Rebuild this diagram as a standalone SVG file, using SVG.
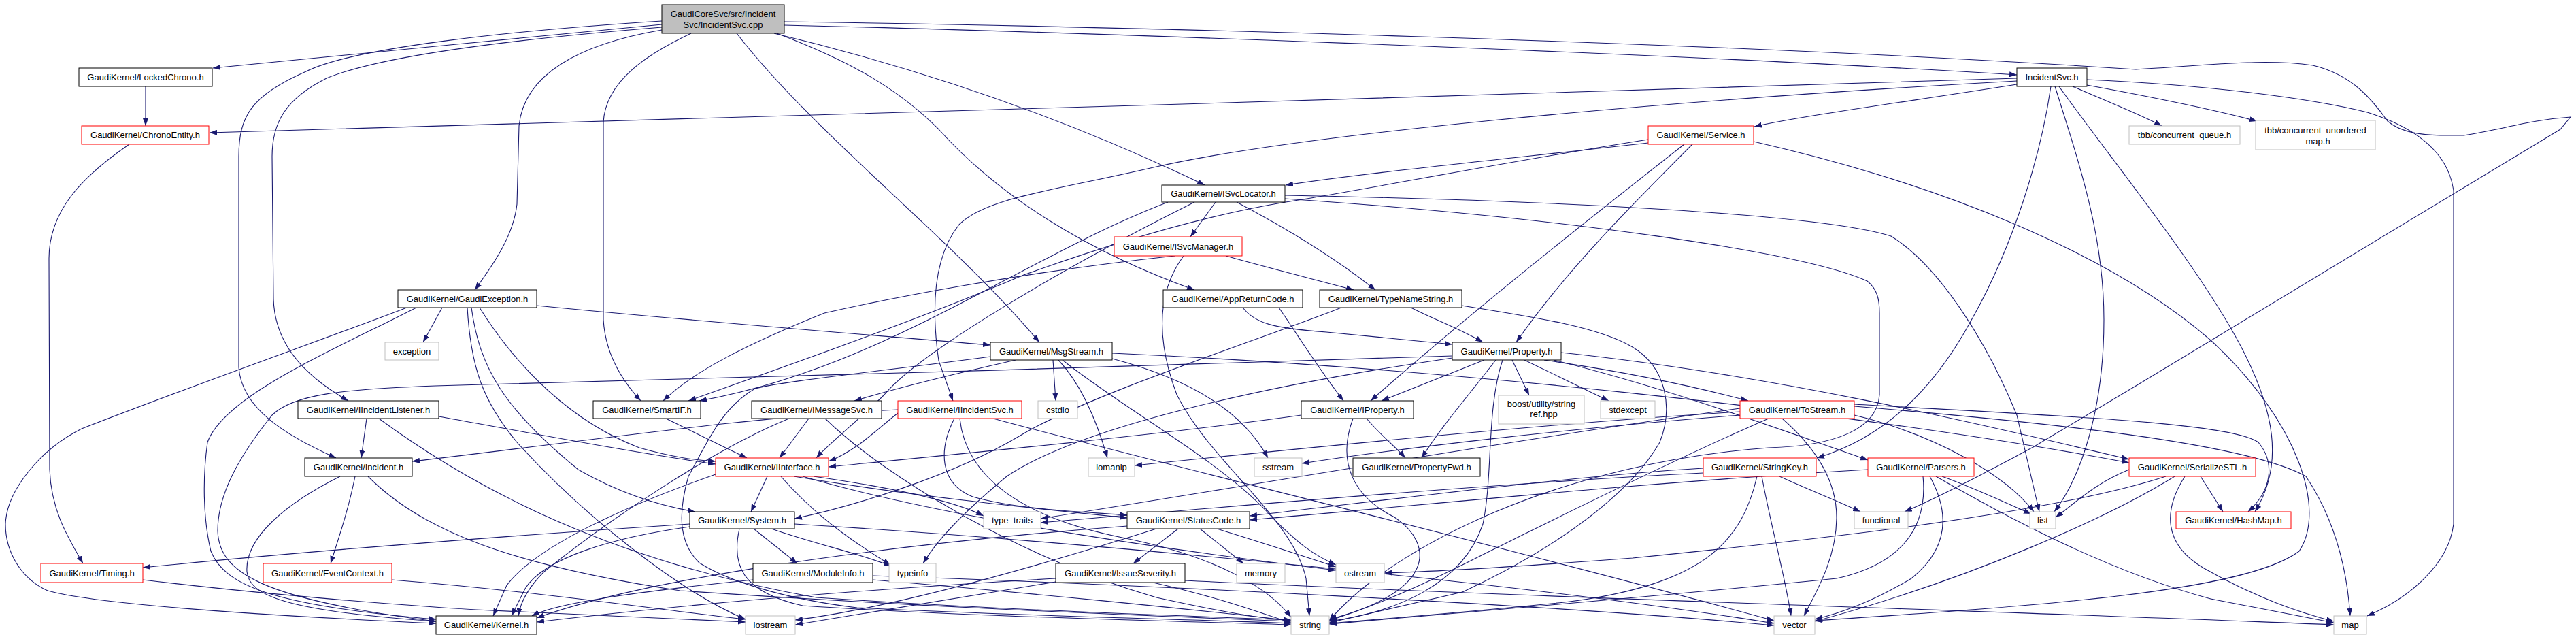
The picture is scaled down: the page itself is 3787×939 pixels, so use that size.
<svg xmlns="http://www.w3.org/2000/svg" width="3787" height="939" viewBox="0 0 3787 939">
<style>
rect{fill:#fff;stroke:#000;stroke-width:1}
.r{stroke:#ff0000}
.g{stroke:#bfbfbf}
.root{fill:#bfbfbf;stroke:#000}
text{font-family:"Liberation Sans",Arial,Helvetica,sans-serif;font-size:13px;text-anchor:middle;fill:#000}
#edges path{fill:none;stroke:#191970;stroke-width:1.1;marker-end:url(#a)}
</style>
<defs>
<marker id="a" viewBox="0 0 11 8" refX="11" refY="4" markerWidth="11" markerHeight="8" markerUnits="userSpaceOnUse" orient="auto"><path d="M0,0L11,4L0,8z" fill="#191970"/></marker>
</defs>
<rect x="0" y="0" width="3787" height="939" style="fill:#fff;stroke:none"/>
<g id="edges">
<path d="M973,36 C760,56 520,80 313,100"/>
<path d="M1153,37 C1500,45 2400,75 2965,110"/>
<path d="M973,44 C850,65 770,110 763,185 L760,300 C755,345 728,385 698,426"/>
<path d="M1016,49 C950,80 890,120 887,180 L887,470 C890,520 915,560 942,589"/>
<path d="M1138,49 C1350,100 1560,170 1771,272"/>
<path d="M1142,49 C1250,90 1320,130 1380,190 C1470,290 1600,370 1756,426"/>
<path d="M1083,49 C1200,200 1400,350 1528,503"/>
<path d="M973,40 C750,58 560,82 480,115 C420,145 400,180 400,230 L402,440 C404,500 440,548 512,589"/>
<path d="M973,31 C750,45 520,70 450,105 C370,140 351,170 351,230 L351,540 C355,600 420,640 494,673"/>
<path d="M1153,32 C1600,38 2500,60 3140,102 C3260,95 3330,86 3400,96 C3460,110 3490,150 3510,178 C3530,195 3560,199 3600,199 L3622,199 C3680,190 3720,176 3779,172 L3764,190 L3140,567 L2989,657 C2900,705 2840,735 2800,752"/>
<path d="M214,127 L214,185"/>
<path d="M190,212 C120,260 72,310 72,380 L73,690 C75,750 100,790 122,828"/>
<path d="M210,852 C400,875 600,890 700,896 C900,905 1000,910 1096,914"/>
<path d="M576,852 C800,870 1000,900 1096,910"/>
<path d="M522,700 C512,750 498,790 486,828"/>
<path d="M500,700 C420,740 360,790 363,840 C366,875 420,898 641,913"/>
<path d="M541,700 C620,780 750,830 1000,868 C1400,895 1700,905 1898,913"/>
<path d="M539,615 L531,673"/>
<path d="M645,612 C800,640 950,668 1052,682"/>
<path d="M557,615 C700,720 900,825 1200,878 C1500,898 1750,905 1898,911"/>
<path d="M979,615 C1020,635 1060,655 1098,673"/>
<path d="M650,452 L622,503"/>
<path d="M598,452 C500,490 300,560 120,630 C60,660 10,720 8,770 C8,810 30,850 70,868 C150,890 400,905 641,916"/>
<path d="M612,452 C500,510 330,580 305,650 C298,700 298,760 310,810 C330,860 400,890 641,910"/>
<path d="M789,449 C1000,470 1250,490 1456,507"/>
<path d="M693,452 C705,540 740,600 850,690 C920,730 980,745 1022,752"/>
<path d="M705,452 C760,540 840,620 940,658 C990,672 1020,676 1052,678"/>
<path d="M687,452 C692,540 710,590 760,650 C860,760 1000,870 1096,910"/>
<path d="M1189,615 L1146,673"/>
<path d="M1160,615 C1050,660 900,760 800,840 C775,865 765,885 762,905"/>
<path d="M1213,615 C1300,700 1500,820 1700,878 C1800,900 1850,908 1898,912"/>
<path d="M1320,607 C1290,630 1260,662 1218,678"/>
<path d="M1320,602 C1100,612 850,650 606,678"/>
<path d="M1403,615 C1380,660 1380,710 1430,730 C1500,750 1600,752 1657,757"/>
<path d="M1411,615 C1420,700 1500,760 1650,790 C1800,820 1870,870 1898,907"/>
<path d="M1460,615 C1700,680 2200,800 2608,912"/>
<path d="M1128,700 L1104,752"/>
<path d="M1052,697 C930,740 790,800 745,860 L725,905"/>
<path d="M1148,700 C1200,760 1260,800 1309,830"/>
<path d="M1167,700 C1350,730 1500,745 1657,761"/>
<path d="M1196,700 C1300,715 1400,735 1446,758"/>
<path d="M1180,700 C1400,765 1750,812 1964,838"/>
<path d="M1014,770 C700,790 400,815 210,834"/>
<path d="M1014,774 C900,790 800,820 772,865 L752,905"/>
<path d="M1108,777 L1172,828"/>
<path d="M1134,777 C1200,800 1270,815 1310,832"/>
<path d="M1087,777 C1075,830 1090,870 1180,890 C1400,905 1700,912 1898,918"/>
<path d="M1168,770 C1500,790 2200,850 2608,916"/>
<path d="M1107,852 C950,868 820,885 782,905"/>
<path d="M1283,852 C1500,870 1750,895 1898,912"/>
<path d="M1283,846 C1700,860 2300,890 2608,919"/>
<path d="M1732,777 L1666,828"/>
<path d="M1764,777 L1828,828"/>
<path d="M1789,777 C1880,805 1930,822 1964,833"/>
<path d="M1657,773 C1300,800 950,850 789,908"/>
<path d="M1700,777 C1500,840 1300,895 1169,911"/>
<path d="M1552,850 C1200,870 950,895 789,914"/>
<path d="M1742,853 C2300,880 3000,900 3431,918"/>
<path d="M1695,856 C1800,880 1850,900 1898,915"/>
<path d="M1552,855 C1400,880 1250,905 1169,918"/>
<path d="M1787,297 L1750,348"/>
<path d="M1818,297 C1900,340 1970,385 2022,426"/>
<path d="M1717,297 C1500,380 1300,540 1028,589"/>
<path d="M1756,297 C1550,400 1350,520 1300,580 C1260,620 1220,650 1200,673"/>
<path d="M1889,287 C2300,295 2680,315 2780,347 C2850,390 2920,500 2965,610 L2998,752"/>
<path d="M1889,292 C2300,320 2650,370 2745,413 C2760,425 2763,440 2763,460 L2763,580 C2760,630 2700,655 2600,658 C2300,680 2050,800 1954,912"/>
<path d="M1802,376 C1870,395 1930,410 1990,426"/>
<path d="M1727,376 C1500,400 1300,440 1212,460 C1100,505 1020,545 975,589"/>
<path d="M1740,376 C1700,430 1700,500 1730,580 C1780,680 1900,760 1920,850 L1925,905"/>
<path d="M1827,452 C1845,475 1870,482 1950,488 L2135,506"/>
<path d="M1880,452 C1900,480 1930,530 1975,589"/>
<path d="M2074,452 C2110,470 2150,485 2180,503"/>
<path d="M2149,449 C2250,465 2350,480 2400,510 C2450,540 2460,600 2440,650 C2400,720 2300,800 2150,870 L1954,915"/>
<path d="M1972,452 C1850,500 1600,580 1500,640 C1400,700 1250,745 1168,762"/>
<path d="M2182,529 L2031,589"/>
<path d="M2199,529 C2160,580 2120,625 2090,673"/>
<path d="M2223,529 L2248,581"/>
<path d="M2241,529 L2365,589"/>
<path d="M2209,529 C2185,600 2195,700 2180,770 C2150,860 2050,900 1954,913"/>
<path d="M2270,529 C2380,545 2480,565 2570,589"/>
<path d="M2284,529 C2450,570 2600,625 2746,676"/>
<path d="M2295,518 C2600,550 2900,620 3130,675"/>
<path d="M2135,523 C1700,540 1000,555 640,567 C500,572 430,580 400,610 C360,660 320,720 320,780 C322,840 380,880 641,913"/>
<path d="M2135,526 C1900,560 1600,620 1480,700 C1420,750 1380,790 1357,828"/>
<path d="M2009,615 C2030,640 2050,655 2066,673"/>
<path d="M1989,615 C1965,680 1990,730 2050,760 C2110,800 2110,870 1954,910"/>
<path d="M1913,610 C1700,640 1400,668 1218,686"/>
<path d="M1493,529 C1400,550 1320,570 1256,589"/>
<path d="M1548,529 L1552,589"/>
<path d="M1556,529 C1585,560 1610,610 1628,673"/>
<path d="M1635,527 C1760,560 1830,610 1864,673"/>
<path d="M1562,529 C1650,600 1800,680 1870,760 C1910,800 1930,815 1964,830"/>
<path d="M1635,519 C2100,540 2700,600 3130,680"/>
<path d="M1456,524 C1300,545 1150,560 1110,571 C1060,600 1040,650 1012,700 C995,760 1000,800 1028,827 C1069,853 1151,880 1260,893 C1500,905 1750,910 1898,916"/>
<path d="M2558,605 C2300,620 1900,660 1668,684"/>
<path d="M2558,610 C2300,630 2050,660 1914,681"/>
<path d="M2600,615 C2450,680 2250,780 2150,830 C2050,880 1990,900 1954,912"/>
<path d="M2726,610 C2850,640 2950,700 2990,752"/>
<path d="M2726,597 C3000,620 3300,650 3390,700 C3430,760 3450,830 3455,905"/>
<path d="M2620,615 C2660,650 2700,700 2700,760 C2700,820 2670,870 2652,905"/>
<path d="M2726,594 C3000,610 3280,620 3320,650 C3345,680 3340,720 3305,752"/>
<path d="M2558,600 C2200,650 1800,720 1530,762"/>
<path d="M2616,700 C2660,720 2710,740 2735,752"/>
<path d="M2590,700 C2605,780 2625,850 2633,905"/>
<path d="M2583,700 C2560,800 2500,860 2300,885 C2150,900 2050,908 1954,916"/>
<path d="M2504,688 C2300,700 2000,740 1837,758"/>
<path d="M2504,695 C2200,710 1800,745 1530,768"/>
<path d="M2746,690 C2400,710 2100,742 1837,764"/>
<path d="M2855,700 C2910,720 2950,740 2986,755"/>
<path d="M2846,700 C2950,760 3100,840 3250,880 L3431,915"/>
<path d="M2837,700 C2870,760 2860,810 2810,850 C2760,880 2710,900 2668,910"/>
<path d="M2827,700 C2835,780 2790,830 2700,850 C2400,880 2150,900 1954,917"/>
<path d="M3235,700 L3268,752"/>
<path d="M3212,700 C3180,750 3180,800 3240,835 C3320,880 3380,900 3431,913"/>
<path d="M3130,690 C3080,710 3050,740 3022,760"/>
<path d="M3197,700 C3100,760 2900,850 2668,913"/>
<path d="M3184,700 C3000,760 2600,800 2400,820 C2200,835 2100,840 2035,842"/>
<path d="M2965,115 C2200,140 1000,175 308,195"/>
<path d="M2965,119 C2400,150 1900,200 1700,245 C1550,280 1450,290 1410,330 C1370,380 1370,460 1380,530 L1401,589"/>
<path d="M2965,124 C2800,150 2650,170 2579,186"/>
<path d="M3015,127 C3000,230 2960,360 2900,467 C2850,560 2780,640 2671,673"/>
<path d="M3021,127 C3060,250 3093,350 3093,470 C3093,600 3060,700 3020,752"/>
<path d="M3027,127 C3100,230 3240,400 3300,520 C3340,600 3360,680 3315,752"/>
<path d="M3047,127 C3100,150 3150,170 3178,185"/>
<path d="M3068,125 C3150,140 3250,160 3318,178"/>
<path d="M3068,117 C3250,125 3400,145 3480,165 C3560,190 3600,230 3607,280 L3607,770 C3600,830 3540,880 3480,905"/>
<path d="M2423,205 C2200,240 2000,280 1890,297 C1750,320 1600,370 1505,404 C1350,470 1150,540 1012,589"/>
<path d="M2423,210 C2200,235 2000,255 1890,272"/>
<path d="M2488,212 C2400,300 2300,400 2229,503"/>
<path d="M2476,212 C2300,350 2150,470 2015,589"/>
<path d="M2578,208 C2850,270 3100,370 3250,500 C3380,620 3420,750 3380,810 C3300,870 3000,890 2668,912"/>
</g>
<g id="n_root"><rect class="root" x="973" y="7" width="180" height="42"/><text x="1063" y="24.5">GaudiCoreSvc/src/Incident</text><text x="1063" y="40.5">Svc/IncidentSvc.cpp</text></g>
<g id="n_lockedchrono"><rect x="116" y="100" width="196" height="27"/><text x="214" y="118">GaudiKernel/LockedChrono.h</text></g>
<g id="n_chronoentity"><rect class="r" x="120" y="185" width="187" height="27"/><text x="213.5" y="203">GaudiKernel/ChronoEntity.h</text></g>
<g id="n_timing"><rect class="r" x="60" y="828" width="150" height="28"/><text x="135" y="846.5">GaudiKernel/Timing.h</text></g>
<g id="n_gaudiexception"><rect x="585" y="426" width="204" height="26"/><text x="687" y="443.5">GaudiKernel/GaudiException.h</text></g>
<g id="n_exception"><rect class="g" x="566" y="503" width="79" height="26"/><text x="605.5" y="520.5">exception</text></g>
<g id="n_iincidentlistener"><rect x="438" y="589" width="207" height="26"/><text x="541.5" y="606.5">GaudiKernel/IIncidentListener.h</text></g>
<g id="n_incident"><rect x="448" y="673" width="158" height="27"/><text x="527" y="691">GaudiKernel/Incident.h</text></g>
<g id="n_eventcontext"><rect class="r" x="387" y="828" width="189" height="28"/><text x="481.5" y="846.5">GaudiKernel/EventContext.h</text></g>
<g id="n_smartif"><rect x="872" y="589" width="158" height="26"/><text x="951" y="606.5">GaudiKernel/SmartIF.h</text></g>
<g id="n_imessagesvc"><rect x="1105" y="589" width="191" height="26"/><text x="1200.5" y="606.5">GaudiKernel/IMessageSvc.h</text></g>
<g id="n_iinterface"><rect class="r" x="1052" y="673" width="166" height="27"/><text x="1135" y="691">GaudiKernel/IInterface.h</text></g>
<g id="n_system"><rect x="1014" y="752" width="154" height="25"/><text x="1091" y="769">GaudiKernel/System.h</text></g>
<g id="n_moduleinfo"><rect x="1107" y="828" width="176" height="28"/><text x="1195" y="846.5">GaudiKernel/ModuleInfo.h</text></g>
<g id="n_kernel"><rect x="641" y="905" width="148" height="27"/><text x="715" y="923">GaudiKernel/Kernel.h</text></g>
<g id="n_iostream"><rect class="g" x="1096" y="905" width="73" height="27"/><text x="1132.5" y="923">iostream</text></g>
<g id="n_isvclocator"><rect x="1708" y="272" width="181" height="25"/><text x="1798.5" y="289">GaudiKernel/ISvcLocator.h</text></g>
<g id="n_isvcmanager"><rect class="r" x="1638" y="348" width="188" height="28"/><text x="1732" y="366.5">GaudiKernel/ISvcManager.h</text></g>
<g id="n_appreturncode"><rect x="1710" y="426" width="205" height="26"/><text x="1812.5" y="443.5">GaudiKernel/AppReturnCode.h</text></g>
<g id="n_msgstream"><rect x="1456" y="503" width="179" height="26"/><text x="1545.5" y="520.5">GaudiKernel/MsgStream.h</text></g>
<g id="n_iincidentsvc"><rect class="r" x="1320" y="589" width="182" height="26"/><text x="1411" y="606.5">GaudiKernel/IIncidentSvc.h</text></g>
<g id="n_cstdio"><rect class="g" x="1526" y="589" width="58" height="26"/><text x="1555" y="606.5">cstdio</text></g>
<g id="n_iomanip"><rect class="g" x="1600" y="673" width="68" height="27"/><text x="1634" y="691">iomanip</text></g>
<g id="n_sstream"><rect class="g" x="1844" y="673" width="70" height="27"/><text x="1879" y="691">sstream</text></g>
<g id="n_type_traits"><rect class="g" x="1446" y="752" width="84" height="25"/><text x="1488" y="769">type_traits</text></g>
<g id="n_statuscode"><rect x="1657" y="752" width="180" height="25"/><text x="1747" y="769">GaudiKernel/StatusCode.h</text></g>
<g id="n_typeinfo"><rect class="g" x="1307" y="828" width="69" height="28"/><text x="1341.5" y="846.5">typeinfo</text></g>
<g id="n_issueseverity"><rect x="1552" y="828" width="190" height="28"/><text x="1647" y="846.5">GaudiKernel/IssueSeverity.h</text></g>
<g id="n_memory"><rect class="g" x="1818" y="828" width="71" height="28"/><text x="1853.5" y="846.5">memory</text></g>
<g id="n_service"><rect class="r" x="2423" y="185" width="155" height="27"/><text x="2500.5" y="203">GaudiKernel/Service.h</text></g>
<g id="n_typenamestring"><rect x="1940" y="426" width="209" height="26"/><text x="2044.5" y="443.5">GaudiKernel/TypeNameString.h</text></g>
<g id="n_property"><rect x="2135" y="503" width="160" height="26"/><text x="2215" y="520.5">GaudiKernel/Property.h</text></g>
<g id="n_iproperty"><rect x="1913" y="589" width="165" height="26"/><text x="1995.5" y="606.5">GaudiKernel/IProperty.h</text></g>
<g id="n_string_ref"><rect class="g" x="2203" y="581" width="126" height="42"/><text x="2266" y="597.5">boost/utility/string</text><text x="2266" y="612.5">_ref.hpp</text></g>
<g id="n_stdexcept"><rect class="g" x="2353" y="589" width="80" height="26"/><text x="2393" y="606.5">stdexcept</text></g>
<g id="n_propertyfwd"><rect x="1989" y="673" width="187" height="27"/><text x="2082.5" y="691">GaudiKernel/PropertyFwd.h</text></g>
<g id="n_ostream"><rect class="g" x="1964" y="828" width="71" height="28"/><text x="1999.5" y="846.5">ostream</text></g>
<g id="n_string"><rect class="g" x="1898" y="905" width="56" height="27"/><text x="1926" y="923">string</text></g>
<g id="n_incidentsvc_h"><rect x="2965" y="100" width="103" height="27"/><text x="3016.5" y="118">IncidentSvc.h</text></g>
<g id="n_tostream"><rect class="r" x="2558" y="589" width="168" height="26"/><text x="2642" y="606.5">GaudiKernel/ToStream.h</text></g>
<g id="n_stringkey"><rect class="r" x="2504" y="673" width="166" height="27"/><text x="2587" y="691">GaudiKernel/StringKey.h</text></g>
<g id="n_parsers"><rect class="r" x="2746" y="673" width="156" height="27"/><text x="2824" y="691">GaudiKernel/Parsers.h</text></g>
<g id="n_functional"><rect class="g" x="2726" y="752" width="79" height="25"/><text x="2765.5" y="769">functional</text></g>
<g id="n_list"><rect class="g" x="2984" y="752" width="38" height="25"/><text x="3003" y="769">list</text></g>
<g id="n_vector"><rect class="g" x="2608" y="905" width="60" height="27"/><text x="2638" y="923">vector</text></g>
<g id="n_tbb_queue"><rect class="g" x="3130" y="185" width="163" height="27"/><text x="3211.5" y="203">tbb/concurrent_queue.h</text></g>
<g id="n_tbb_umap"><rect class="g" x="3316" y="177" width="176" height="43"/><text x="3404" y="195.5">tbb/concurrent_unordered</text><text x="3404" y="211.5">_map.h</text></g>
<g id="n_serializestl"><rect class="r" x="3130" y="673" width="186" height="27"/><text x="3223" y="691">GaudiKernel/SerializeSTL.h</text></g>
<g id="n_hashmap"><rect class="r" x="3199" y="752" width="169" height="25"/><text x="3283.5" y="769">GaudiKernel/HashMap.h</text></g>
<g id="n_map"><rect class="g" x="3431" y="905" width="48" height="27"/><text x="3455" y="923">map</text></g>
</svg>
